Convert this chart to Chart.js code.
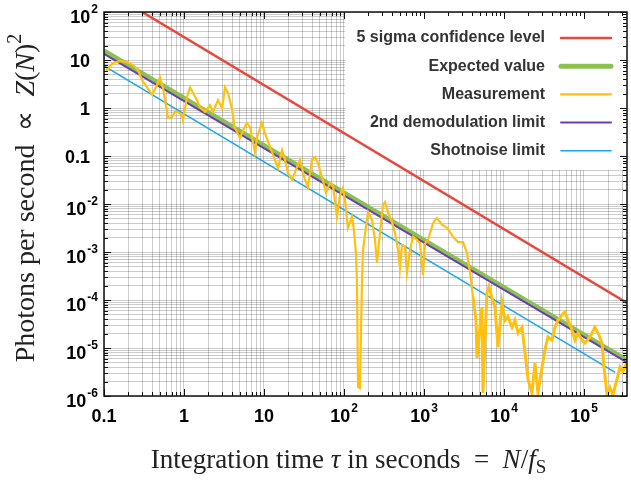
<!DOCTYPE html>
<html>
<head>
<meta charset="utf-8">
<script src="https://cdn.jsdelivr.net/npm/chart.js@4"></script>
<style>
  html, body { margin: 0; padding: 0; background: #fff; }
  #wrap { width: 631px; height: 481px; }
</style>
</head>
<body>
<div id="wrap"><canvas id="myChart"></canvas></div>
<script>
// Medição: tempo de integração (s) e fótons por segundo
const measTau = [0.1, 0.13, 0.158, 0.194, 0.23, 0.266, 0.3, 0.345, 0.4, 0.46, 0.5, 0.546, 0.6, 0.63, 0.71, 0.77, 0.84, 0.94, 0.97,
    1.09, 1.19, 1.3, 1.45, 1.58, 1.83, 2.11, 2.3, 2.66, 3.0, 3.25, 3.55, 4.0, 4.3, 5.0, 5.5, 6.1, 6.7, 7.7, 8.2, 9.4,
    10.3, 11.9, 13.7, 15, 16.8, 18.3, 20, 22.4, 25.9, 28.2, 32.5, 35.5, 39.8, 43.4, 47.3, 53, 59.6, 66.8, 72.9, 81.7, 89, 97,
    103, 112, 126, 133, 141, 145, 150, 158, 168, 173, 188, 200, 224, 244, 258, 282, 307, 326, 355, 398, 434, 473,
    501, 531, 579, 613, 668, 729, 818, 891, 972, 1030, 1120, 1300, 1450, 1680, 1940, 2300, 2660, 3070, 3450, 3760,
    4100, 4470, 4600, 5010, 5300, 5460, 5790, 6130, 6490, 7080, 7720, 8410, 9440, 10300, 11200, 12600, 13700, 15000,
    16800, 18300, 20000, 22400, 24400, 26600, 29900, 32500, 35500, 39800, 43400, 47300, 53100, 57900, 63100, 70800,
    77200, 84100, 94400, 103000, 119000, 137000, 150000, 168000, 178000, 194000, 211000, 230000, 258000, 282000, 307000, 345000];
const measVal = [5.6, 8.7, 9.5, 9.1, 7.9, 6.2, 3.8, 2.7, 1.9, 3.0, 4.4, 2.6, 1.05, 0.62, 0.65, 0.83, 0.83, 0.71, 0.56,
    1.7, 2.7, 2.05, 1.47, 1.05, 0.83, 1.15, 0.83, 1.47, 1.0, 2.7, 2.05, 0.91, 0.40, 0.24, 0.35, 0.49, 0.40, 0.12, 0.25, 0.49,
    0.30, 0.154, 0.083, 0.056, 0.133, 0.083, 0.044, 0.032, 0.059, 0.083, 0.032, 0.0226, 0.083, 0.095, 0.071, 0.0365, 0.017, 0.028, 0.0237, 0.0054, 0.0154, 0.0216,
    0.0121, 0.0032, 0.0054, 0.0029, 0.00096, 0.00026, 1.55e-6, 1.47e-6, 0.00026, 0.0011, 0.0033, 0.0068, 0.0046, 0.0018, 0.00059, 0.0025, 0.0095, 0.011, 0.0068, 0.0042, 0.0025, 0.0011,
    0.00047, 0.0014, 0.0013, 0.00037, 0.0011, 0.0021, 0.0018, 0.0015, 0.00033, 0.0015, 0.0018, 0.0040, 0.0051, 0.0037, 0.0032, 0.0021, 0.0016, 0.0016, 0.00096, 0.00037,
    0.000115, 3.8e-5, 6.2e-6, 2.7e-5, 7.1e-5, 1.15e-6, 1.47e-5, 0.00014, 0.00019, 0.00011, 7.1e-5, 1.04e-5, 8.7e-5, 3.8e-5, 4.5e-5, 2.7e-5, 3.8e-5, 2.05e-5,
    2.7e-5, 8e-6, 2.2e-6, 1.15e-6, 4.9e-6, 1.15e-6, 4e-6, 9.1e-6, 1.7e-5, 1.47e-5, 2.7e-5, 3.8e-5, 4.9e-5, 5.6e-5, 3.8e-5, 2.4e-5,
    1.47e-5, 2.05e-5, 1.47e-5, 1.27e-5, 1.7e-5, 2.7e-5, 2.05e-5, 1.27e-5, 4e-6, 1.05e-6, 1.5e-6, 1.05e-6, 2.2e-6, 4e-6, 3.2e-6, 5.1e-6];

// Retas teóricas (pontos das extremidades)
const sigmaTau = [0.3, 345000];
const sigmaVal = [100, 8.7e-5];
const expectTau = [0.1, 345000];
const expectVal = [15.5, 5.5e-6];
const demodTau = [0.1, 345000];
const demodVal = [13.5, 5.0e-6];
const shotTau = [0.1, 245000];
const shotVal = [7.5, 3.1e-6];

// Rótulos dos eixos (base + expoente)
const xDecades = [-1, 0, 1, 2, 3, 4, 5];
const xTickBase = ['0.1', '1', '10', '10', '10', '10', '10'];
const xTickSup = ['', '', '', '2', '3', '4', '5'];
const yDecades = [-6, -5, -4, -3, -2, -1, 0, 1, 2];
const yTickBase = ['10', '10', '10', '10', '10', '0.1', '1', '10', '10'];
const yTickSup = ['-6', '-5', '-4', '-3', '-2', '', '', '', '2'];

const toPoints = (xs, ys) => xs.map((x, i) => ({ x: x, y: ys[i] }));

function logTicks(min, max) {
    const ticks = [];
    for (let e = Math.floor(Math.log10(min)); e <= Math.ceil(Math.log10(max)); e++) {
        for (let m = 1; m <= 9; m++) {
            const v = m * Math.pow(10, e);
            if (v >= min * 0.999 && v <= max * 1.001) ticks.push({ value: v });
        }
    }
    return ticks;
}

function decadeIndex(value, decades) {
    const e = Math.log10(value);
    return decades.findIndex(d => Math.abs(d - e) < 1e-6);
}

const baseFont = 'bold 18px Liberation Sans, Arial';
const supFont = 'bold 12px Liberation Sans, Arial';
const gridColor = 'rgba(0,0,0,0.2)';

// Legenda desenhada à mão (caixa branca sobre a grade, linhas por cima)
const legendBox = {
    id: 'legendBox',
    beforeDatasetsDraw(chart) {
        const { ctx, chartArea: a } = chart;
        ctx.save();
        ctx.fillStyle = '#fff';
        ctx.fillRect(a.right - 282, a.top + 1, 282, 157);
        ctx.font = 'bold 16px Liberation Sans, Arial';
        ctx.textAlign = 'right';
        ctx.textBaseline = 'middle';
        chart.data.datasets.forEach((ds, i) => {
            const y = a.top + 26 + i * 28.2;
            ctx.fillStyle = '#333';
            ctx.fillText(ds.label, a.right - 82, y);
            ctx.strokeStyle = ds.borderColor;
            ctx.lineWidth = ds.borderWidth;
            ctx.lineCap = 'round';
            ctx.beginPath();
            ctx.moveTo(a.right - 66, y);
            ctx.lineTo(a.right - 16, y);
            ctx.stroke();
        });
        ctx.restore();
    },
    afterDatasetsDraw(chart) {
        const { ctx, chartArea: a, scales } = chart;
        ctx.save();
        ctx.strokeStyle = '#111';
        ctx.lineWidth = 1;
        // marcas internas nos quatro lados
        scales.x.ticks.forEach(t => {
            const px = Math.round(scales.x.getPixelForValue(t.value)) + 0.5;
            const len = decadeIndex(t.value, xDecades) >= 0 ? 7 : 4;
            ctx.beginPath();
            ctx.moveTo(px, a.bottom); ctx.lineTo(px, a.bottom - len);
            ctx.moveTo(px, a.top); ctx.lineTo(px, a.top + len);
            ctx.stroke();
        });
        scales.y.ticks.forEach(t => {
            const py = Math.round(scales.y.getPixelForValue(t.value)) + 0.5;
            const len = decadeIndex(t.value, yDecades) >= 0 ? 7 : 4;
            ctx.beginPath();
            ctx.moveTo(a.left, py); ctx.lineTo(a.left + len, py);
            ctx.moveTo(a.right, py); ctx.lineTo(a.right - len, py);
            ctx.stroke();
        });
        ctx.lineWidth = 1.5;
        ctx.strokeRect(a.left, a.top, a.right - a.left, a.bottom - a.top);
        ctx.restore();
    }
};

// Rótulos das décadas com expoente sobrescrito
const tickLabels = {
    id: 'tickLabels',
    afterDraw(chart) {
        const { ctx, chartArea: a, scales } = chart;
        ctx.save();
        ctx.fillStyle = '#000';
        ctx.textBaseline = 'alphabetic';
        ctx.textAlign = 'left';
        const measure = (b, s) => {
            ctx.font = baseFont; const wb = ctx.measureText(b).width;
            ctx.font = supFont; const ws = s ? ctx.measureText(s).width + 1 : 0;
            return [wb, ws];
        };
        const put = (b, s, x, y) => {
            ctx.font = baseFont; ctx.fillText(b, x, y);
            if (s) { const wb = ctx.measureText(b).width; ctx.font = supFont; ctx.fillText(s, x + wb + 1, y - 10); }
        };
        scales.x.ticks.forEach(t => {
            const i = decadeIndex(t.value, xDecades);
            if (i < 0) return;
            const px = scales.x.getPixelForValue(t.value);
            const [wb, ws] = measure(xTickBase[i], xTickSup[i]);
            put(xTickBase[i], xTickSup[i], px - (wb + ws) / 2, a.bottom + 26);
        });
        scales.y.ticks.forEach(t => {
            const i = decadeIndex(t.value, yDecades);
            if (i < 0) return;
            const py = scales.y.getPixelForValue(t.value);
            const [wb, ws] = measure(yTickBase[i], yTickSup[i]);
            const right = yTickSup[i] ? a.left - 6 : a.left - 14;
            const base = yTickSup[i] ? py + 11 : py + 7;
            put(yTickBase[i], yTickSup[i], right - wb - ws, base);
        });
        ctx.restore();
    }
};

// Títulos dos eixos com itálico / índices
function drawRuns(ctx, runs, x, y) {
    let total = 0;
    runs.forEach(r => { ctx.font = r.font; r.w = ctx.measureText(r.text).width; total += r.w; });
    let cx = x - total / 2;
    runs.forEach(r => { ctx.font = r.font; ctx.fillText(r.text, cx, y + (r.dy || 0)); cx += r.w; });
}

const axisTitles = {
    id: 'axisTitles',
    afterDraw(chart) {
        const { ctx, chartArea: a } = chart;
        const serif = '27px Liberation Serif, Times New Roman, serif';
        const serifIt = 'italic 27px Liberation Serif, Times New Roman, serif';
        const small = '19px Liberation Serif, Times New Roman, serif';
        const ySerif = '28px Liberation Serif, Times New Roman, serif';
        const ySerifIt = 'italic 28px Liberation Serif, Times New Roman, serif';
        const ySmall = '20px Liberation Serif, Times New Roman, serif';
        ctx.save();
        ctx.fillStyle = '#222';
        ctx.textAlign = 'left';
        ctx.textBaseline = 'alphabetic';
        drawRuns(ctx, [
            { text: 'Integration time ', font: serif },
            { text: 'τ', font: serifIt },
            { text: ' in seconds  =  ', font: serif },
            { text: 'N', font: serifIt },
            { text: '/', font: serif },
            { text: 'f', font: serifIt },
            { text: 'S', font: small, dy: 5 }
        ], (a.left + a.right) / 2 - 17, 468);
        ctx.translate(34, (a.top + a.bottom) / 2 - 6);
        ctx.rotate(-Math.PI / 2);
        drawRuns(ctx, [
            { text: 'Photons per second  ', font: ySerif },
            { text: '∝', font: ySerif },
            { text: '  ', font: ySerif },
            { text: 'Z', font: ySerifIt },
            { text: '(', font: ySerif },
            { text: 'N', font: ySerifIt },
            { text: ')', font: ySerif },
            { text: '2', font: ySmall, dy: -13 }
        ], 0, 0);
        ctx.restore();
    }
};

const data = {
    datasets: [
        { label: '5 sigma confidence level', data: toPoints(sigmaTau, sigmaVal), borderColor: '#e8473d', borderWidth: 2.5, order: 0 },
        { label: 'Expected value', data: toPoints(expectTau, expectVal), borderColor: '#8cc152', borderWidth: 5, order: 3 },
        {
            label: 'Measurement', data: toPoints(measTau, measVal), borderColor: '#ffc10e', borderWidth: 2.2, order: 1,
            // o trecho ruidoso da direita aparece mais grosso no original
            segment: { borderWidth: c => (c.p0.parsed.x > 4000 ? 3 : 2.2) }
        },
        { label: '2nd demodulation limit', data: toPoints(demodTau, demodVal), borderColor: '#6a3db8', borderWidth: 2, order: 2 },
        { label: 'Shotnoise limit', data: toPoints(shotTau, shotVal), borderColor: '#1aa6e8', borderWidth: 1.5, order: 4 }
    ]
};
data.datasets.forEach(ds => { ds.pointRadius = 0; ds.tension = 0; ds.fill = false; });

const config = {
    type: 'line',
    data: data,
    options: {
        responsive: true,
        maintainAspectRatio: false,
        animation: false,
        layout: { padding: { left: 0, top: 12, right: 4, bottom: 0 } },
        plugins: {
            legend: { display: false },
            tooltip: { enabled: false }
        },
        scales: {
            x: {
                type: 'logarithmic',
                min: 0.1,
                max: 345000,
                afterBuildTicks: s => { s.ticks = logTicks(s.min, s.max); },
                afterFit: s => { s.height = 85; },
                grid: { color: gridColor, drawTicks: false },
                border: { display: false },
                ticks: { autoSkip: false, maxRotation: 0, callback: () => '' }
            },
            y: {
                type: 'logarithmic',
                min: 1e-6,
                max: 100,
                afterBuildTicks: s => { s.ticks = logTicks(s.min, s.max); },
                afterFit: s => { s.width = 104; },
                grid: { color: gridColor, drawTicks: false },
                border: { display: false },
                ticks: { autoSkip: false, callback: () => '' }
            }
        }
    },
    plugins: [legendBox, tickLabels, axisTitles]
};

const ctx = document.getElementById('myChart').getContext('2d');
new Chart(ctx, config);
</script>
</body>
</html>
